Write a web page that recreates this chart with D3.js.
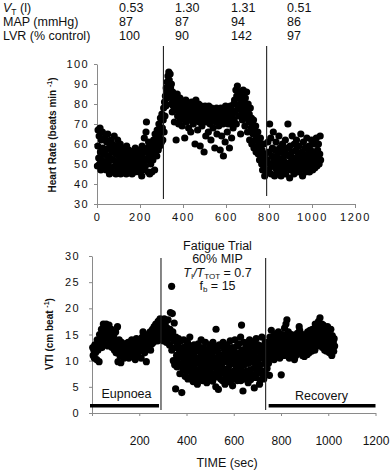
<!DOCTYPE html>
<html>
<head>
<meta charset="utf-8">
<script src="https://cdn.jsdelivr.net/npm/d3@7"></script>
<style>
  body { margin: 0; background: #fff; }
  svg { display: block; font-family: "Liberation Sans", Arial, sans-serif; }
</style>
</head>
<body>
<div id="chart"></div>
<script>
// table above the plots
const tableLabels = ["VT", "MAP (mmHg)", "LVR (% control)"];
const vtValues = ["0.53", "1.30", "1.31", "0.51"];
const mapValues = ["87", "87", "94", "86"];
const lvrValues = ["100", "90", "142", "97"];

// axes
const timeTicks = [0, 200, 400, 600, 800, 1000, 1200];
const hrTicks = [30, 40, 50, 60, 70, 80, 90, 100];
const vtiTicks = [0, 5, 10, 15, 20, 25, 30];

// phase boundaries (sec)
const hrPhaseTimes = [309, 789];
const vtiPhaseTimes = [292, 735];

// heart rate (time, beats/min)
const hrEupnoea = [[2,49],[4,59],[5,67],[8,53],[10,64],[12,50],[14,68],[16,56],[18,47],[20,62],[22,52],[25,66],[27,58],[30,49],[32,55],[35,63],[38,51],[40,57],[43,47],[45,61],[48,54],[50,65],[53,50],[55,58],[58,45],[60,53],[63,62],[66,48],[68,56],[70,60],[73,46],[76,52],[78,57],[80,64],[83,49],[86,55],[88,45],[90,59],[93,51],[96,62],[98,47],[100,54],[103,57],[106,50],[108,60],[110,45],[113,53],[116,48],[118,56],[120,51],[123,46],[126,58],[128,52],[130,49],[133,55],[136,45],[138,59],[140,50],[143,53],[146,47],[148,57],[150,51],[153,46],[156,54],[158,49],[160,56],[163,45],[166,52],[168,48],[170,55],[173,50],[176,46],[178,58],[180,53],[183,47],[186,56],[188,51],[190,49],[193,54],[196,46],[198,57],[200,52],[203,48],[206,55],[208,44],[210,59],[213,50],[216,53],[218,47],[220,63],[222,56],[225,49],[228,66],[230,71],[232,52],[235,58],[238,46],[240,61],[243,54],[245,45],[248,57],[250,50],[253,60],[255,46],[258,55],[260,52],[263,62],[265,58],[268,47],[270,65],[272,56],[275,60],[278,54],[280,67],[283,62],[285,57],[288,70],[290,64],[292,59],[295,73],[297,66],[300,61],[302,75],[304,68]];
const hrFatigue = [[306,62],[308,72],[310,78],[312,66],[314,81],[316,74],[318,84],[320,79],[322,88],[324,83],[326,91],[328,86],[330,94],[332,89],[334,96],[336,92],[338,85],[340,95],[342,88],[344,80],[346,90],[348,83],[350,76],[352,86],[355,79],[358,84],[360,71],[362,77],[365,82],[368,62],[370,78],[373,85],[375,74],[378,80],[380,70],[383,76],[386,83],[388,72],[390,79],[393,75],[396,69],[398,81],[400,77],[403,73],[406,79],[408,63],[410,76],[413,82],[416,71],[418,78],[420,74],[423,80],[426,68],[428,76],[430,72],[433,79],[436,66],[438,75],[440,81],[443,73],[446,77],[448,70],[450,79],[453,74],[456,60],[458,76],[460,82],[463,72],[466,78],[468,67],[470,75],[473,80],[476,71],[478,77],[480,59],[483,74],[486,79],[488,69],[490,76],[493,72],[496,78],[498,56],[500,74],[503,79],[506,64],[508,75],[510,71],[513,77],[516,73],[518,66],[520,79],[523,74],[526,70],[528,76],[530,62],[533,78],[536,72],[538,75],[540,68],[543,77],[546,73],[548,58],[550,76],[553,71],[556,78],[558,65],[560,74],[563,77],[566,69],[568,75],[570,72],[573,57],[576,78],[578,73],[580,64],[583,76],[586,70],[588,54],[590,77],[593,74],[596,61],[598,79],[600,72],[603,75],[606,66],[608,78],[610,70],[613,76],[616,58],[618,73],[620,79],[623,71],[626,63],[628,77],[630,74],[633,68],[636,80],[638,72],[640,82],[643,76],[646,87],[648,70],[650,84],[653,89],[656,78],[658,83],[660,74],[663,86],[666,80],[668,65],[670,77],[673,84],[676,72],[678,81],[680,87],[683,75],[686,79],[688,69],[690,83],[693,73],[696,86],[698,77],[700,66],[703,80],[706,71],[708,75],[710,62],[713,78],[716,68],[718,73],[720,60],[723,70],[726,65],[728,72],[730,58],[733,67],[736,62],[738,69],[740,56],[743,64],[746,59],[748,66],[750,55],[753,61],[756,52],[758,58],[760,63],[763,54],[766,50],[768,57],[770,47],[773,53],[776,60],[778,49],[780,44],[783,55],[786,51],[788,46]];
const hrRecovery = [[792,52],[795,61],[798,47],[800,56],[803,70],[805,50],[808,63],[810,45],[813,54],[816,58],[818,49],[820,66],[823,52],[826,44],[828,57],[830,48],[833,61],[836,53],[838,46],[840,55],[843,50],[846,64],[848,47],[850,58],[853,52],[856,44],[858,56],[860,49],[863,60],[866,53],[868,47],[870,57],[873,51],[876,62],[878,45],[880,55],[883,50],[886,58],[888,70],[890,48],[893,54],[896,43],[898,59],[900,51],[903,47],[906,56],[908,64],[910,49],[913,53],[916,45],[918,60],[920,52],[923,48],[926,57],[928,62],[930,50],[933,46],[936,55],[938,51],[940,59],[943,47],[946,53],[948,65],[950,49],[953,56],[956,44],[958,52],[960,61],[963,48],[966,54],[968,58],[970,46],[973,51],[976,63],[978,55],[980,48],[983,53],[986,59],[988,46],[990,52],[993,57],[996,49],[998,62],[1000,54],[1003,47],[1006,56],[1008,51],[1010,60],[1013,48],[1016,55],[1018,52],[1020,63],[1023,49],[1026,57],[1028,53],[1030,60],[1033,50],[1036,55],[1038,64],[1040,52]];

// VTI (time, cm/beat)
const vtiEupnoea = [[3,12.5],[5,11],[8,12],[10,10.5],[12,13],[15,11.5],[18,12.8],[20,10.2],[22,14],[25,12],[28,13.5],[30,9.8],[32,15],[35,13],[38,14.5],[40,16],[42,12.5],[45,15.5],[48,17],[50,14],[52,16.5],[55,13],[58,15.8],[60,17],[62,14.5],[65,16],[68,12.8],[70,15],[72,16.8],[75,13.5],[78,15.5],[80,14],[82,16],[85,12.5],[88,15],[90,13.5],[92,14.8],[95,12],[98,13.8],[100,15.5],[102,11.5],[105,13],[108,16.5],[110,9.8],[112,12.5],[115,14],[118,11],[120,12.8],[122,9.6],[125,13.5],[128,11.5],[130,12],[133,13],[136,10.5],[138,12.5],[140,11.8],[143,13.2],[146,10.8],[148,12],[150,11.5],[153,13.5],[156,10.5],[158,12.2],[160,11],[163,13],[166,12],[168,14],[170,11.2],[173,12.8],[176,13.8],[178,11.5],[180,12.5],[183,10.2],[186,13],[188,14.2],[190,12],[193,11],[196,13.5],[198,12.2],[200,14],[203,11.8],[206,13],[208,10.5],[210,12.5],[213,14.5],[216,15.5],[218,12],[220,13.5],[223,11.5],[226,14],[228,12.8],[230,9.8],[233,13.2],[236,15],[238,12.5],[240,14],[243,13],[246,15.5],[248,12],[250,14.5],[253,13.2],[256,16],[258,14.8],[260,13.5],[263,16.5],[266,15],[268,14],[270,17],[273,15.5],[276,16.8],[278,13.8],[280,17.5],[283,15.2],[286,16.5],[288,18],[290,14.5],[292,17.2]];
const vtiFatigue = [[294,16],[296,14.5],[298,17.5],[300,15],[302,13.8],[304,16.5],[306,18],[308,14.8],[310,17],[312,15.5],[315,13.5],[318,16.2],[320,14],[322,17.8],[325,15],[328,13],[330,16],[332,19.2],[335,14.5],[337,24.2],[338,12],[340,19],[342,15.5],[344,10],[346,13.8],[348,17.2],[350,9.2],[352,12.5],[354,4.6],[355,14.5],[358,11],[360,8.8],[362,13],[364,10.5],[366,14.2],[368,9.5],[370,12],[372,7.5],[374,11.5],[376,13.8],[378,9],[380,3.9],[382,10.8],[384,12.5],[386,8.2],[388,14],[390,10],[392,11.8],[394,7],[396,9.5],[398,12.8],[400,8.5],[402,11],[404,13.5],[406,6.5],[408,10.2],[410,12],[412,8.8],[414,14.5],[416,9.8],[418,11.5],[420,7.8],[422,10.5],[424,12.8],[426,9],[428,6],[430,11.2],[432,13],[434,8.5],[436,10],[438,12.2],[440,7.2],[442,9.5],[444,11.8],[446,5.5],[448,10.5],[450,13.2],[452,8],[454,9.8],[456,12],[458,7],[460,10.8],[462,14],[464,8.8],[466,11.5],[468,6.2],[470,9.2],[472,12.5],[474,10],[476,7.8],[478,11],[480,13.5],[482,8.5],[484,10.2],[486,5.8],[488,12],[490,9],[492,11.5],[494,7.5],[496,10.5],[498,13],[500,8.2],[502,9.8],[504,12.2],[506,6.8],[508,11],[510,8.8],[512,13.5],[514,10],[516,7.2],[518,11.8],[520,9.2],[522,12.5],[524,5],[525,16],[527,10.5],[529,8],[531,12],[533,9.5],[535,4.5],[537,11.2],[539,13],[541,8.5],[543,10.2],[545,6.5],[547,12.8],[549,9],[551,11],[553,7.8],[555,13.5],[557,10.5],[559,8.2],[561,12],[563,5.5],[565,9.8],[567,11.5],[569,7],[571,13],[573,10],[575,8.5],[577,12.2],[579,6],[581,10.8],[583,9.2],[585,13.8],[587,7.5],[589,11.2],[591,9.5],[593,12.5],[595,5.2],[597,10.2],[599,8],[601,12],[603,9.5],[605,14],[607,7],[609,11],[611,8.8],[613,12.8],[615,6.2],[617,10.5],[619,9],[621,13.2],[623,7.8],[625,11.5],[627,10],[629,14.5],[631,8.5],[633,16.8],[635,12],[637,6.5],[639,4.2],[641,10.8],[643,13.5],[645,9.2],[647,11.8],[649,7.2],[651,12.5],[653,10],[655,8],[657,13],[659,11],[661,5.8],[663,9.5],[665,12.2],[667,14],[669,8.2],[671,10.5],[673,12.8],[675,7],[677,11.5],[679,9.8],[681,13.5],[683,8.5],[685,11],[687,4.8],[689,10.2],[691,12.5],[693,9],[695,14.2],[697,7.5],[699,11.8],[701,10],[703,13],[705,8.8],[707,12],[709,5.5],[711,10.8],[713,9.2],[715,12.8],[717,11],[719,14.5],[721,8],[723,10.5],[725,12.2],[727,6.5],[729,11.5],[731,9.5],[733,13.5]];
// extra low-lying fatigue beats that fill the lower half of the band
const vtiFatigueLow = [[405,8],[417,6.8],[431,7.6],[443,6.4],[457,8.4],[465,6.9],[479,7.2],[489,6.6],[501,7.9],[511,6.1],[519,7.4],[532,6.9],[544,7.7],[552,6.2],[562,7.6],[572,6.6],[582,7.4],[590,6.3],[602,7.8],[610,6.6],[620,7.2],[630,6.2],[642,7.6],[652,6.5],[662,7.9],[672,6.4],[682,7.2],[692,6.8],[702,7.6],[712,6.3],[722,7.4],[732,7.9]];
const vtiRecovery = [[737,10],[739,12.5],[741,8.5],[743,11],[745,13.5],[747,9.5],[749,12],[751,7.2],[753,14.5],[755,11.2],[757,13],[759,15.8],[761,10.5],[763,12.8],[765,14],[767,11.5],[769,13.5],[771,10.2],[773,15],[775,12.2],[777,13.8],[779,11],[781,14.5],[783,12.5],[785,10.8],[787,13.2],[789,15.5],[791,11.8],[793,13],[795,10.5],[797,14.2],[799,12],[801,7.3],[803,13.5],[805,11.2],[807,15],[809,12.5],[811,14],[813,11],[815,16.2],[817,13],[819,12],[821,17],[823,14.5],[825,17.8],[827,11.5],[829,13.8],[831,15.5],[833,12.2],[835,10.5],[837,14],[839,12.8],[841,11.2],[843,13.5],[845,15],[847,10.8],[849,12.5],[851,14.2],[853,11.5],[855,13],[857,10.2],[859,12],[861,14.8],[863,11],[865,13.2],[867,12.5],[869,15.2],[871,11.8],[873,14],[875,12.2],[877,16.5],[879,15.8],[881,13],[883,11.5],[885,14.5],[887,12.8],[889,13.8],[891,11],[893,15],[895,12.5],[897,14],[899,10.8],[901,13.2],[903,11.8],[905,14.8],[907,12],[909,13.5],[911,11.2],[913,15.5],[915,12.8],[917,14.2],[919,11.5],[921,13],[923,15.8],[925,12.2],[927,14.5],[929,11.8],[931,13.8],[933,16],[935,12.5],[937,14.8],[939,13.2],[941,15.5],[943,12],[945,17],[947,14],[949,13],[951,16.5],[953,12.8],[955,15.2],[957,13.8],[959,17.5],[961,14.5],[963,16],[965,18.2],[967,13.5],[969,15.8],[971,14.2],[973,17],[975,12.5],[977,15],[979,16.8],[981,13.2],[983,14.8],[985,12],[987,16.2],[989,13.8],[991,15.5],[993,11.8],[995,14],[997,16.5],[999,12.8],[1001,15],[1003,13.5],[1005,11.5],[1007,14.5],[1009,12.2],[1011,16],[1013,13],[1015,11],[1017,14.8],[1019,12.5],[1021,13.5],[1023,11.8],[1025,14.2],[1027,12.8]];

const W = 390, H = 471;
const axisColor = "#8a8a8a";
const dotR = 3.6;
const plain = d => String(d);

const svg = d3.select("#chart").append("svg")
    .attr("width", W)
    .attr("height", H);

// ---- table at the top ----
const colX = d3.scaleLinear().domain([0, 3]).range([119, 287]);
const rowY = [12, 26, 39.5];
const rows = [vtValues, mapValues, lvrValues];

const table = svg.append("g").attr("font-size", 12.5).attr("fill", "#111");
rows.forEach((vals, r) => {
    const lab = table.append("text").attr("x", 3).attr("y", rowY[r]);
    if (r === 0) {
        lab.append("tspan").attr("font-style", "italic").text("V");
        lab.append("tspan").attr("font-size", 8.5).attr("dy", 2.5).text("T");
        lab.append("tspan").attr("dy", -2.5).text(" (l)");
    } else {
        lab.text(tableLabels[r]);
    }
    table.selectAll(null)
        .data(vals)
        .join("text")
        .attr("x", (d, i) => colX(i))
        .attr("y", rowY[r])
        .text(d => d);
});

function styleAxis(g) {
    g.select(".domain").attr("stroke", axisColor);
    g.selectAll(".tick line").attr("stroke", axisColor);
    g.selectAll(".tick text")
        .attr("fill", "#111")
        .attr("font-family", "'Liberation Sans', Arial, sans-serif");
}

function drawDots(g, data, x, y) {
    g.selectAll(null)
        .data(data)
        .join("circle")
        .attr("cx", d => x(d[0]))
        .attr("cy", d => y(d[1]))
        .attr("r", dotR)
        .attr("fill", "#000");
}

// ---- top panel: heart rate ----
const xTop = d3.scaleLinear().domain([0, 1200]).range([97, 355]);
const yTop = d3.scaleLinear().domain([30, 100]).range([204, 64]);

svg.append("g")
    .attr("transform", `translate(0,${yTop(30)})`)
    .call(d3.axisBottom(xTop).tickValues(timeTicks).tickFormat(plain)
        .tickSize(4).tickSizeOuter(0).tickPadding(5))
    .call(styleAxis)
    .call(g => g.selectAll(".tick text").attr("font-size", 11).attr("letter-spacing", 1.6));

svg.append("g")
    .attr("transform", `translate(${xTop(0)},0)`)
    .call(d3.axisLeft(yTop).tickValues(hrTicks).tickFormat(plain)
        .tickSize(3).tickSizeOuter(0).tickPadding(5))
    .call(styleAxis)
    .call(g => g.selectAll(".tick text").attr("font-size", 11).attr("letter-spacing", 1.4));

const hrDots = svg.append("g");
[hrEupnoea, hrFatigue, hrRecovery].forEach(s => drawDots(hrDots, s, xTop, yTop));

svg.append("g")
    .selectAll("line")
    .data(hrPhaseTimes)
    .join("line")
    .attr("x1", d => xTop(d)).attr("x2", d => xTop(d))
    .attr("y1", 46).attr("y2", (d, i) => i === 0 ? 199 : 196)
    .attr("stroke", "#222").attr("stroke-width", 1.1);

const hrLabel = svg.append("text")
    .attr("transform", `translate(56,${135}) rotate(-90)`)
    .attr("text-anchor", "middle")
    .attr("font-size", 10)
    .attr("font-weight", "bold")
    .attr("fill", "#111");
hrLabel.append("tspan").text("Heart Rate (beats min ");
hrLabel.append("tspan").attr("font-size", 7).attr("dy", -4).text("-1");
hrLabel.append("tspan").attr("dy", 4).text(")");

// ---- bottom panel: VTI ----
const xBot = d3.scaleLinear().domain([0, 1200]).range([92, 375.5]);
const yBot = d3.scaleLinear().domain([0, 30]).range([413, 256]);

svg.append("g")
    .attr("transform", `translate(0,${yBot(0)})`)
    .call(d3.axisBottom(xBot).tickValues(timeTicks).tickSize(3).tickSizeOuter(0).tickPadding(20)
        .tickFormat(d => d === 0 ? "" : String(d)))
    .call(styleAxis)
    .call(g => g.selectAll(".tick text").attr("font-size", 12));

svg.append("g")
    .attr("transform", `translate(${xBot(0)},0)`)
    .call(d3.axisLeft(yBot).tickValues(vtiTicks).tickFormat(plain)
        .tickSize(3).tickSizeOuter(0).tickPadding(9))
    .call(styleAxis)
    .call(g => g.selectAll(".tick text").attr("font-size", 11).attr("letter-spacing", 1.4));

const vtiDots = svg.append("g");
[vtiEupnoea, vtiFatigue, vtiFatigueLow, vtiRecovery].forEach(s => drawDots(vtiDots, s, xBot, yBot));

svg.append("g")
    .selectAll("line")
    .data(vtiPhaseTimes)
    .join("line")
    .attr("x1", d => xBot(d)).attr("x2", d => xBot(d))
    .attr("y1", 258).attr("y2", 410)
    .attr("stroke", "#222").attr("stroke-width", 1.1);

// phase bars
const barY = 405.7;
svg.append("line")
    .attr("x1", xBot(0) - 2).attr("x2", xBot(vtiPhaseTimes[0]) - 2)
    .attr("y1", barY).attr("y2", barY)
    .attr("stroke", "#000").attr("stroke-width", 3.4);
svg.append("line")
    .attr("x1", xBot(vtiPhaseTimes[1]) + 3).attr("x2", xBot(1200))
    .attr("y1", barY).attr("y2", barY)
    .attr("stroke", "#000").attr("stroke-width", 3.4);

svg.append("text")
    .attr("x", 126.5).attr("y", 398)
    .attr("text-anchor", "middle").attr("font-size", 12.5).attr("fill", "#111")
    .text("Eupnoea");
svg.append("text")
    .attr("x", 321.5).attr("y", 399.5)
    .attr("text-anchor", "middle").attr("font-size", 12.5).attr("fill", "#111")
    .text("Recovery");

// protocol note
const note = svg.append("g")
    .attr("font-size", 12.5).attr("fill", "#111").attr("text-anchor", "middle");
note.append("text").attr("x", 217.5).attr("y", 250).text("Fatigue Trial");
note.append("text").attr("x", 217.5).attr("y", 263).text("60% MIP");
const ratio = note.append("text").attr("x", 217.5).attr("y", 276.5);
ratio.append("tspan").attr("font-style", "italic").text("T");
ratio.append("tspan").attr("font-size", 8).attr("dy", 2).text("I");
ratio.append("tspan").attr("dy", -2).attr("font-style", "italic").text("/T");
ratio.append("tspan").attr("font-size", 8).attr("dy", 2).text("TOT");
ratio.append("tspan").attr("dy", -2).text(" = 0.7");
const fb = note.append("text").attr("x", 217.5).attr("y", 290);
fb.append("tspan").text("f");
fb.append("tspan").attr("font-size", 8).attr("dy", 2).text("b");
fb.append("tspan").attr("dy", -2).text(" = 15");

const vtiLabel = svg.append("text")
    .attr("transform", `translate(53,${334}) rotate(-90)`)
    .attr("text-anchor", "middle")
    .attr("font-size", 10)
    .attr("font-weight", "bold")
    .attr("fill", "#111");
vtiLabel.append("tspan").text("VTI (cm beat ");
vtiLabel.append("tspan").attr("font-size", 7).attr("dy", -4).text("-1");
vtiLabel.append("tspan").attr("dy", 4).text(")");

svg.append("text")
    .attr("x", 227).attr("y", 467)
    .attr("text-anchor", "middle").attr("font-size", 12.5).attr("fill", "#111")
    .text("TIME (sec)");
</script>
</body>
</html>
